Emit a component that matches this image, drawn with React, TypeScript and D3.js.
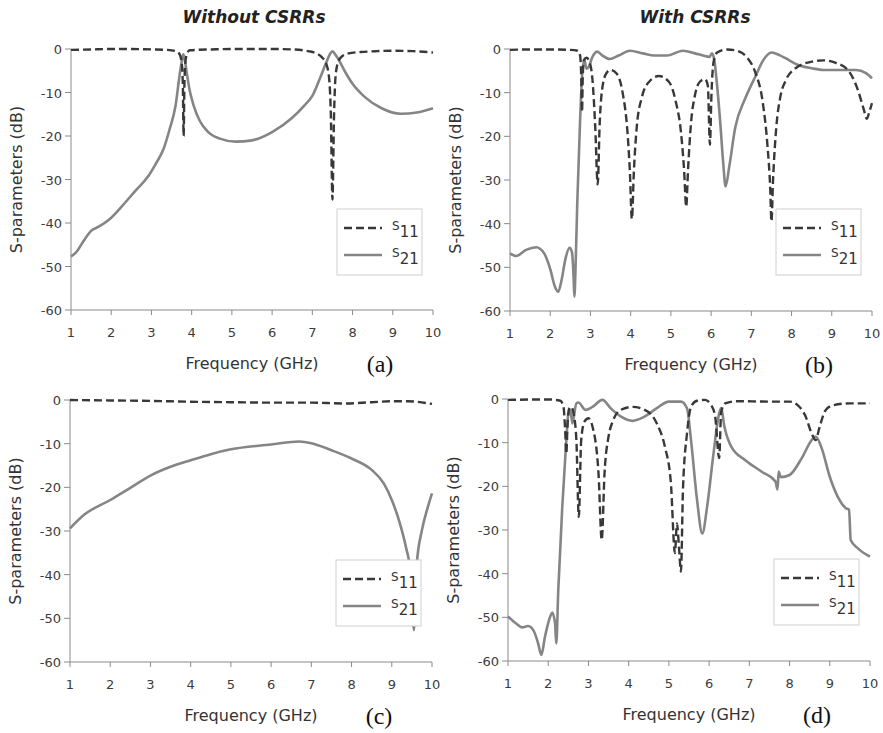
import React from "react";
import * as d3 from "d3";

type Pt = [number, number];

// ---------- data (frequency GHz, dB) ----------
const freqTicks = [1, 2, 3, 4, 5, 6, 7, 8, 9, 10];
const dbTicks = [0, -10, -20, -30, -40, -50, -60];
const titles = ["Without CSRRs", "With CSRRs"];
const panelLabels = ["(a)", "(b)", "(c)", "(d)"];

const aS11: Pt[] = [[1,-0.2],[1.5,-0.1],[2,0],[2.5,0],[3,-0.1],[3.4,-0.2],[3.6,-0.5],[3.7,-1.2],[3.75,-3],[3.78,-8],[3.8,-20],[3.82,-8],[3.85,-2.5],[3.9,-0.8],[3.95,-0.3],[4.5,-0.1],[5,0],[6,0],[6.5,-0.1],[6.9,-0.5],[7.1,-1],[7.25,-2],[7.35,-3.5],[7.42,-7],[7.46,-15],[7.5,-34.6],[7.54,-15],[7.58,-6],[7.65,-2.8],[7.75,-1.6],[7.9,-1],[8.2,-0.7],[8.6,-0.5],[9,-0.4],[9.5,-0.5],[10,-0.8]];
const aS21: Pt[] = [[1,-47.7],[1.15,-46.5],[1.3,-44.3],[1.5,-41.8],[1.7,-40.8],[1.95,-39.2],[2.3,-35.8],[2.6,-32.6],[2.9,-29.5],[3.1,-26.5],[3.3,-23],[3.45,-18.5],[3.6,-13],[3.7,-6],[3.76,-2.5],[3.79,-1.2],[3.82,-2],[3.87,-5],[3.95,-9.5],[4.05,-13],[4.2,-16.5],[4.4,-19],[4.7,-20.6],[5.1,-21.3],[5.5,-21],[6,-19.1],[6.5,-15.8],[6.8,-13],[7,-10.8],[7.2,-6.5],[7.35,-3],[7.45,-1],[7.5,-0.5],[7.55,-1],[7.65,-2.4],[7.8,-5],[8,-8],[8.3,-11],[8.7,-13.5],[9.2,-14.9],[9.6,-14.6],[10,-13.6]];

const bS11: Pt[] = [[1,-0.2],[1.5,-0.1],[2,-0.1],[2.5,-0.2],[2.68,-0.4],[2.74,-1.4],[2.77,-6],[2.79,-14.4],[2.81,-6],[2.84,-2.5],[2.9,-2],[2.97,-2.8],[3.05,-7],[3.12,-18],[3.18,-31],[3.23,-17],[3.3,-8.6],[3.4,-5.5],[3.5,-4.8],[3.65,-5.6],[3.8,-10],[3.92,-19],[3.98,-28],[4.03,-38.9],[4.08,-28],[4.15,-18],[4.28,-11],[4.45,-7.6],[4.7,-6.2],[4.95,-7.5],[5.12,-12],[5.25,-19],[5.33,-28],[5.38,-36.1],[5.43,-27],[5.5,-17],[5.6,-10.5],[5.72,-7.5],[5.85,-6.9],[5.92,-8.5],[5.97,-21.9],[6.01,-10],[6.06,-3],[6.15,-0.8],[6.4,-0.1],[6.7,-0.6],[6.9,-2],[7.1,-5.4],[7.28,-12],[7.4,-22],[7.47,-32],[7.5,-39.5],[7.54,-30],[7.62,-18],[7.72,-11],[7.85,-7.3],[8.1,-4.4],[8.5,-2.9],[8.8,-2.6],[9.1,-3.2],[9.4,-4.8],[9.65,-9.4],[9.8,-14],[9.87,-16],[9.93,-14.5],[10,-12.4]];
const bS21: Pt[] = [[1,-46.8],[1.15,-47.4],[1.4,-46],[1.65,-45.4],[1.85,-46.8],[2,-50.4],[2.12,-54.5],[2.2,-55.6],[2.28,-53],[2.38,-48],[2.48,-45.5],[2.54,-46.5],[2.58,-52],[2.6,-56.7],[2.63,-50],[2.67,-36],[2.74,-17],[2.8,-5],[2.85,-2.4],[2.9,-4.5],[2.95,-4.2],[3.05,-1.8],[3.17,-0.6],[3.3,-1.5],[3.48,-2.3],[3.7,-1.5],[3.98,-0.4],[4.3,-1],[4.6,-1.5],[4.9,-1.5],[5.3,-0.4],[5.6,-1],[5.8,-1.5],[5.96,-1.8],[6.02,-1],[6.08,-2.5],[6.14,-7.5],[6.22,-16],[6.3,-26],[6.36,-31.5],[6.45,-27],[6.6,-18],[6.85,-11.3],[7.1,-6.3],[7.3,-2.5],[7.5,-0.8],[7.7,-1.4],[7.85,-2.1],[8.15,-3.6],[8.5,-4.4],[8.8,-4.8],[9.2,-4.8],[9.6,-4.8],[9.85,-5.5],[10,-6.7]];

const cS11: Pt[] = [[1,0],[2,-0.1],[3,-0.2],[4,-0.4],[5,-0.5],[6,-0.6],[7,-0.6],[7.8,-0.8],[8.5,-0.5],[9,-0.3],[9.4,-0.3],[10,-0.9]];
const cS21: Pt[] = [[1,-29.4],[1.35,-26.3],[2,-22.9],[2.5,-20.1],[3,-17.3],[3.5,-15.3],[4,-13.8],[4.5,-12.4],[5,-11.3],[6,-10.2],[6.7,-9.5],[7,-9.9],[7.5,-11.5],[8,-13.4],[8.5,-16],[8.8,-19.1],[9,-22.9],[9.2,-28.2],[9.35,-33.6],[9.48,-40.5],[9.55,-52.7],[9.62,-37.7],[9.75,-29.8],[9.9,-24.4],[10,-21.4]];

const dS11: Pt[] = [[1,-0.2],[2,-0.1],[2.3,-0.4],[2.38,-1.8],[2.42,-7],[2.45,-12.5],[2.48,-6],[2.52,-2.2],[2.57,-1.8],[2.63,-3.3],[2.7,-9.4],[2.76,-27],[2.82,-9.4],[2.9,-5.2],[3,-4.4],[3.1,-6.3],[3.25,-17],[3.33,-32.3],[3.4,-17],[3.5,-8.6],[3.6,-5.2],[3.8,-2.5],[4.1,-1.8],[4.4,-2.5],[4.7,-5.6],[4.9,-10.9],[5.05,-19.3],[5.15,-35.3],[5.2,-28.5],[5.25,-33.8],[5.3,-39.5],[5.35,-20.8],[5.45,-7.9],[5.55,-1.8],[5.7,-0.4],[5.9,-0.2],[6.05,-1.4],[6.15,-4],[6.25,-13.5],[6.3,-3],[6.4,-1],[6.7,-0.5],[7.5,-0.6],[8,-0.6],[8.2,-1.4],[8.4,-4],[8.55,-7.9],[8.65,-9.4],[8.75,-6.3],[8.9,-2.5],[9.1,-1.4],[9.5,-1],[10,-1]];
const dS21: Pt[] = [[1,-49.8],[1.2,-51.4],[1.35,-52.3],[1.5,-52],[1.65,-53.3],[1.75,-56],[1.83,-58.6],[1.92,-54.4],[2.05,-49.8],[2.1,-48.9],[2.17,-51.4],[2.2,-56],[2.25,-43.7],[2.35,-24.6],[2.45,-9.4],[2.5,-3.3],[2.55,-2.5],[2.6,-5.6],[2.7,-1],[2.75,-0.8],[2.93,-2.5],[3.1,-1.8],[3.35,-0.2],[3.55,-2.1],[3.8,-4],[4.1,-5],[4.4,-4],[4.7,-2.1],[5,-0.6],[5.3,-0.6],[5.45,-2.1],[5.55,-9.4],[5.7,-23.1],[5.83,-30.8],[5.95,-24.7],[6.1,-13.2],[6.25,-3.3],[6.3,-2.1],[6.38,-6.3],[6.55,-10.9],[6.9,-14],[7.3,-16.6],[7.65,-18.9],[7.7,-20.7],[7.73,-16.6],[7.78,-17.9],[8,-17.4],[8.3,-13.6],[8.55,-9.4],[8.65,-8.6],[8.8,-11.3],[9,-17.8],[9.2,-22.4],[9.4,-25],[9.48,-25.4],[9.52,-32.3],[9.7,-34.2],[10,-36.1]];

// ---------- layout ----------
const panels = [
  { x0: 71, x1: 433, y0: 49, y1: 310, s11: aS11, s21: aS21, label: panelLabels[0] },
  { x0: 510, x1: 872, y0: 49, y1: 311, s11: bS11, s21: bS21, label: panelLabels[1] },
  { x0: 70, x1: 432, y0: 400, y1: 662, s11: cS11, s21: cS21, label: panelLabels[2] },
  { x0: 508, x1: 870, y0: 399, y1: 661, s11: dS11, s21: dS21, label: panelLabels[3] },
];

const FONT = "'DejaVu Sans', Verdana, sans-serif";
const S11C = "#383838";
const S21C = "#858585";
const AXC = "#8a8a8a";

function Panel({ p }: { p: typeof panels[number] }) {
  const x = d3.scaleLinear().domain([1, 10]).range([p.x0, p.x1]);
  const y = d3.scaleLinear().domain([-60, 0]).range([p.y1, p.y0]);
  const line = d3
    .line<Pt>()
    .x((d) => x(d[0]))
    .y((d) => y(d[1]))
    .curve(d3.curveMonotoneX);
  const lx = p.x1 - 96;
  const ly = p.y0 + 160;
  const midX = (p.x0 + p.x1) / 2;
  const midY = (p.y0 + p.y1) / 2;
  return (
    <g>
      <line x1={p.x0} x2={p.x0} y1={p.y0} y2={p.y1} stroke={AXC} strokeWidth={1} />
      <line x1={p.x0} x2={p.x1} y1={p.y1} y2={p.y1} stroke={AXC} strokeWidth={1} />
      {dbTicks.map((t) => (
        <g key={"y" + t}>
          <line x1={p.x0 - 6} x2={p.x0} y1={y(t)} y2={y(t)} stroke={AXC} strokeWidth={1} />
          <text x={p.x0 - 9} y={y(t) + 5} textAnchor="end" fontFamily={FONT} fontSize={13} fill="#3c3c3c">
            {t}
          </text>
        </g>
      ))}
      {freqTicks.map((t) => (
        <g key={"x" + t}>
          <line x1={x(t)} x2={x(t)} y1={p.y1} y2={p.y1 + 5} stroke={AXC} strokeWidth={1} />
          <text x={x(t)} y={p.y1 + 27} textAnchor="middle" fontFamily={FONT} fontSize={13} fill="#3c3c3c">
            {t}
          </text>
        </g>
      ))}
      <path d={line(p.s21) || ""} fill="none" stroke={S21C} strokeWidth={2.6} strokeLinejoin="round" />
      <path d={line(p.s11) || ""} fill="none" stroke={S11C} strokeWidth={2.4} strokeDasharray="8 4" />
      <text
        transform={`translate(${p.x0 - 54},${midY}) rotate(-90)`}
        textAnchor="middle"
        dominantBaseline="middle"
        fontFamily={FONT}
        fontSize={16}
        fill="#333"
      >
        S-parameters (dB)
      </text>
      <text x={midX} y={p.y1 + 59} textAnchor="middle" fontFamily={FONT} fontSize={16} fill="#333">
        Frequency (GHz)
      </text>
      <text x={p.x0 + 309} y={p.y1 + 62} textAnchor="middle" fontFamily="'Liberation Serif', 'Times New Roman', serif" fontSize={24} fill="#111">
        {p.label}
      </text>
      <rect x={lx} y={ly} width={85} height={66} fill="#fff" stroke="#cfcfcf" strokeWidth={1} />
      <line x1={lx + 7} x2={lx + 45} y1={ly + 19} y2={ly + 19} stroke={S11C} strokeWidth={2.4} strokeDasharray="8 4" />
      <line x1={lx + 7} x2={lx + 45} y1={ly + 46} y2={ly + 46} stroke={S21C} strokeWidth={2.6} />
      <text x={lx + 55} y={ly + 21} fontFamily={FONT} fill="#333">
        <tspan fontSize={12}>S</tspan>
        <tspan fontSize={15} dy={7}>11</tspan>
      </text>
      <text x={lx + 55} y={ly + 48} fontFamily={FONT} fill="#333">
        <tspan fontSize={12}>S</tspan>
        <tspan fontSize={15} dy={7}>21</tspan>
      </text>
    </g>
  );
}

export default function App() {
  return (
    <svg
      width={883}
      height={733}
      style={{ position: "absolute", left: 0, top: 0, background: "#fff" }}
    >
      <rect x={0} y={0} width={883} height={733} fill="#fff" />
      <text x={254} y={23} textAnchor="middle" fontFamily={FONT} fontWeight="bold" fontStyle="italic" fontSize={17} fill="#222">
        {titles[0]}
      </text>
      <text x={695} y={23} textAnchor="middle" fontFamily={FONT} fontWeight="bold" fontStyle="italic" fontSize={17} fill="#222">
        {titles[1]}
      </text>
      {panels.map((p, i) => (
        <Panel key={i} p={p} />
      ))}
    </svg>
  );
}
